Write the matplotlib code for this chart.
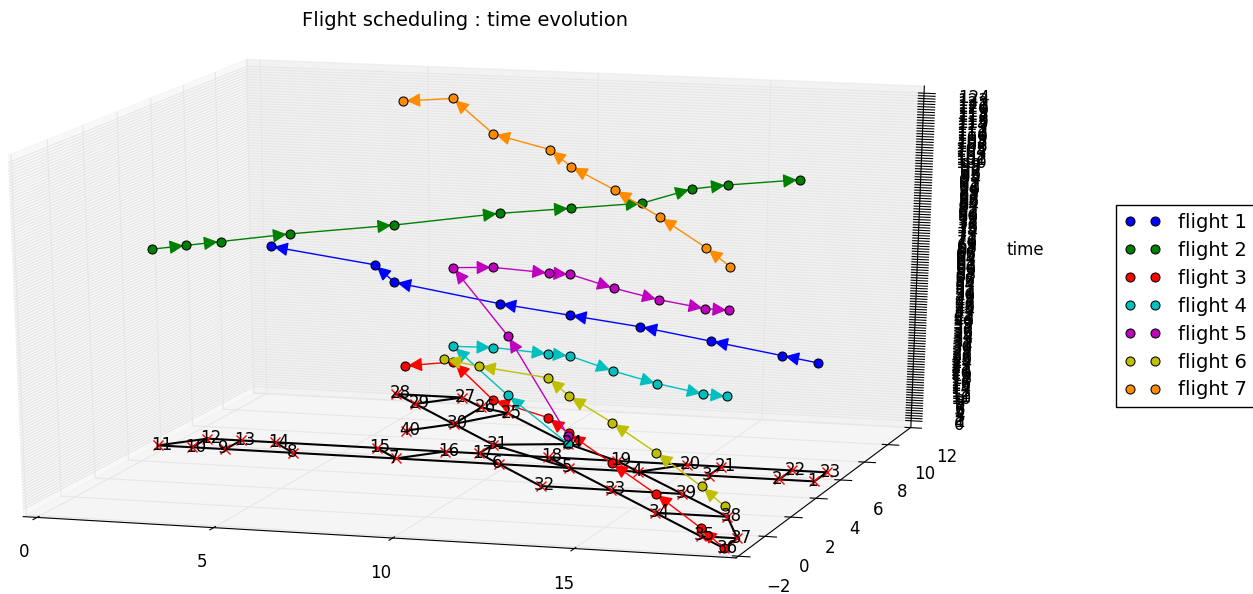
import numpy as np
import matplotlib
matplotlib.use('Agg')
import matplotlib.pyplot as plt
from matplotlib.patches import FancyArrowPatch
from mpl_toolkits.mplot3d import proj3d

# node positions on the ground plane, index 0 is node 1
node_x = [19, 18, 16, 14, 12, 10, 7, 4, 2, 1, 0, 1, 2, 3, 6, 8, 9, 11, 13, 15, 16, 18, 19,
          11, 8, 7, 6, 4, 5, 7, 9, 12, 14, 16, 18, 19, 19, 18, 16, 6]
node_y = [5, 5, 5, 5, 5, 5, 5, 5, 5, 5, 5, 6, 6, 6, 6, 6, 6, 6, 6, 6, 6, 6, 6,
          7.5, 10.5, 11, 12, 12, 11, 9, 7, 3, 3, 1, -1, -2, -1, 1, 3, 8]

edges = [(1, 2), (2, 3), (3, 4), (4, 5), (5, 6), (6, 7), (7, 8), (8, 9), (9, 10), (10, 11),
         (11, 12), (12, 13), (13, 14), (14, 15), (15, 16), (16, 17), (17, 18), (18, 19),
         (19, 20), (20, 21), (21, 22), (22, 23),
         (10, 12), (9, 13), (8, 14), (7, 15), (7, 16), (6, 17), (5, 18), (4, 20), (3, 21),
         (2, 22), (1, 23),
         (28, 27), (28, 29), (27, 29), (29, 30), (30, 31), (31, 5), (30, 40), (30, 26),
         (30, 25), (27, 26), (26, 25), (25, 24), (24, 31), (24, 19), (19, 4), (17, 31),
         (6, 32), (32, 33), (5, 33), (33, 34), (34, 35), (35, 36), (33, 39), (4, 39),
         (39, 38), (34, 38), (38, 37), (35, 37), (37, 36)]

# route of each flight and the time it reaches each node
route1 = [1, 2, 3, 4, 5, 6, 7, 15, 14]
time1 = [44, 46, 50, 54, 57, 60, 66, 69, 74]
route2 = [11, 10, 9, 8, 7, 6, 5, 4, 20, 21, 22]
time2 = [74, 76, 78, 82, 87, 93, 96, 99, 102, 104, 107]
route3 = [36, 35, 34, 33, 5, 18, 31, 30, 40]
time3 = [0, 3, 7, 10, 13, 15, 17, 24, 25]
route4 = [24, 25, 30, 31, 18, 5, 33, 34, 35, 36]
time4 = [0, 7, 30, 37, 39, 42, 44, 47, 51, 54]
route5 = [24, 25, 30, 31, 18, 5, 33, 34, 35, 36]
time5 = [3, 30, 60, 67, 69, 72, 74, 77, 81, 84]
route6 = [36, 35, 34, 33, 5, 18, 17, 16]
time6 = [15, 18, 22, 25, 27, 30, 33, 35]
route7 = [36, 35, 34, 33, 5, 18, 31, 30, 40]
time7 = [99, 102, 106, 109, 111, 114, 116, 123, 124]

routes = [route1, route2, route3, route4, route5, route6, route7]
times = [time1, time2, time3, time4, time5, time6, time7]
colors = ['#0000ff', '#008000', '#ff0000', '#00bfbf', '#bf00bf', '#bfbf00', '#ff8c00']
labels = ['flight 1', 'flight 2', 'flight 3', 'flight 4', 'flight 5', 'flight 6', 'flight 7']


class Arrow3D(FancyArrowPatch):
    def __init__(self, xs, ys, zs, **kw):
        FancyArrowPatch.__init__(self, (0, 0), (0, 0), **kw)
        self._verts3d = xs, ys, zs

    def do_3d_projection(self, renderer=None):
        xs, ys, zs = proj3d.proj_transform(*self._verts3d, self.axes.get_proj())
        self.set_positions((xs[0], ys[0]), (xs[1], ys[1]))
        return np.min(zs)


W, H = 1253.0, 594.0
fig = plt.figure(figsize=(W/100, H/100), dpi=100)
rect = [-207.4/W, (H-649.6)/H, 1340.5/W, 684.8/H]
ax = fig.add_axes(rect, projection='3d', computed_zorder=False)
ax.apply_aspect = lambda position=None: None  # old style, projection fills the whole box
ax.set_box_aspect((1, 1, 1), zoom=1/1.1003)
ax.view_init(18.6, -73.45)
ax.patch.set_visible(False)

# ground network
for a, b in edges:
    ax.plot([node_x[a-1], node_x[b-1]], [node_y[a-1], node_y[b-1]], [0, 0],
            color='k', linewidth=1.5, zorder=1)
ax.plot(node_x, node_y, np.zeros(len(node_x)), 'x', color='r', markersize=7,
        markeredgewidth=1, zorder=2)

# flights
for i in range(7):
    xs = [node_x[n-1] for n in routes[i]]
    ys = [node_y[n-1] for n in routes[i]]
    zs = times[i]
    for j in range(len(xs)-1):
        ax.add_patch(Arrow3D([xs[j], xs[j+1]], [ys[j], ys[j+1]], [zs[j], zs[j+1]],
                             mutation_scale=21, lw=1, arrowstyle='-|>', color=colors[i],
                             zorder=3+2*i))
    ax.plot(xs, ys, zs, 'o', color=colors[i], markersize=6.5, markeredgecolor='k',
            markeredgewidth=0.75, label=labels[i], zorder=4+2*i)

ax.set_xlim3d(0, 19, view_margin=1/48)
ax.set_ylim3d(-2.17, 12.03, view_margin=0)
ax.set_zlim3d(0, 124, view_margin=1/48)
ax.set_xticks([0, 5, 10, 15])
ax.set_yticks(np.arange(-2, 13, 2))
ax.set_zticks(np.arange(0, 125))
ax.tick_params(labelsize=12)
ax.tick_params(axis='z', pad=14)
ax.tick_params(axis='x', pad=12)
ax.tick_params(axis='y', pad=13)
for axis in [ax.xaxis, ax.yaxis, ax.zaxis]:
    axis._axinfo['grid']['color'] = (0.9, 0.9, 0.9, 1)
ax.zaxis.set_rotate_label(False)
ax.set_zlabel('time', rotation=0, fontsize=12, labelpad=28)

# node numbers, projected by hand so they can sit next to the cross
for n in range(40):
    px, py, _ = proj3d.proj_transform(node_x[n], node_y[n], 0, ax.get_proj())
    ax.annotate(str(n+1), (px, py), xytext=(-5, 0.5), textcoords='offset points',
                fontsize=12, va='center', color='k', zorder=20)

ax.legend(loc='upper left', bbox_to_anchor=(1116/W, 1-205/H), bbox_transform=fig.transFigure,
          numpoints=2, fontsize=14, fancybox=False, framealpha=1, edgecolor='k', borderaxespad=0,
          labelspacing=0.46, handlelength=1.9, handletextpad=0.9)
fig.text(465/W, 1-20/H, 'Flight scheduling : time evolution', fontsize=14, ha='center', va='center')

fig.savefig('out.png', dpi=100)
